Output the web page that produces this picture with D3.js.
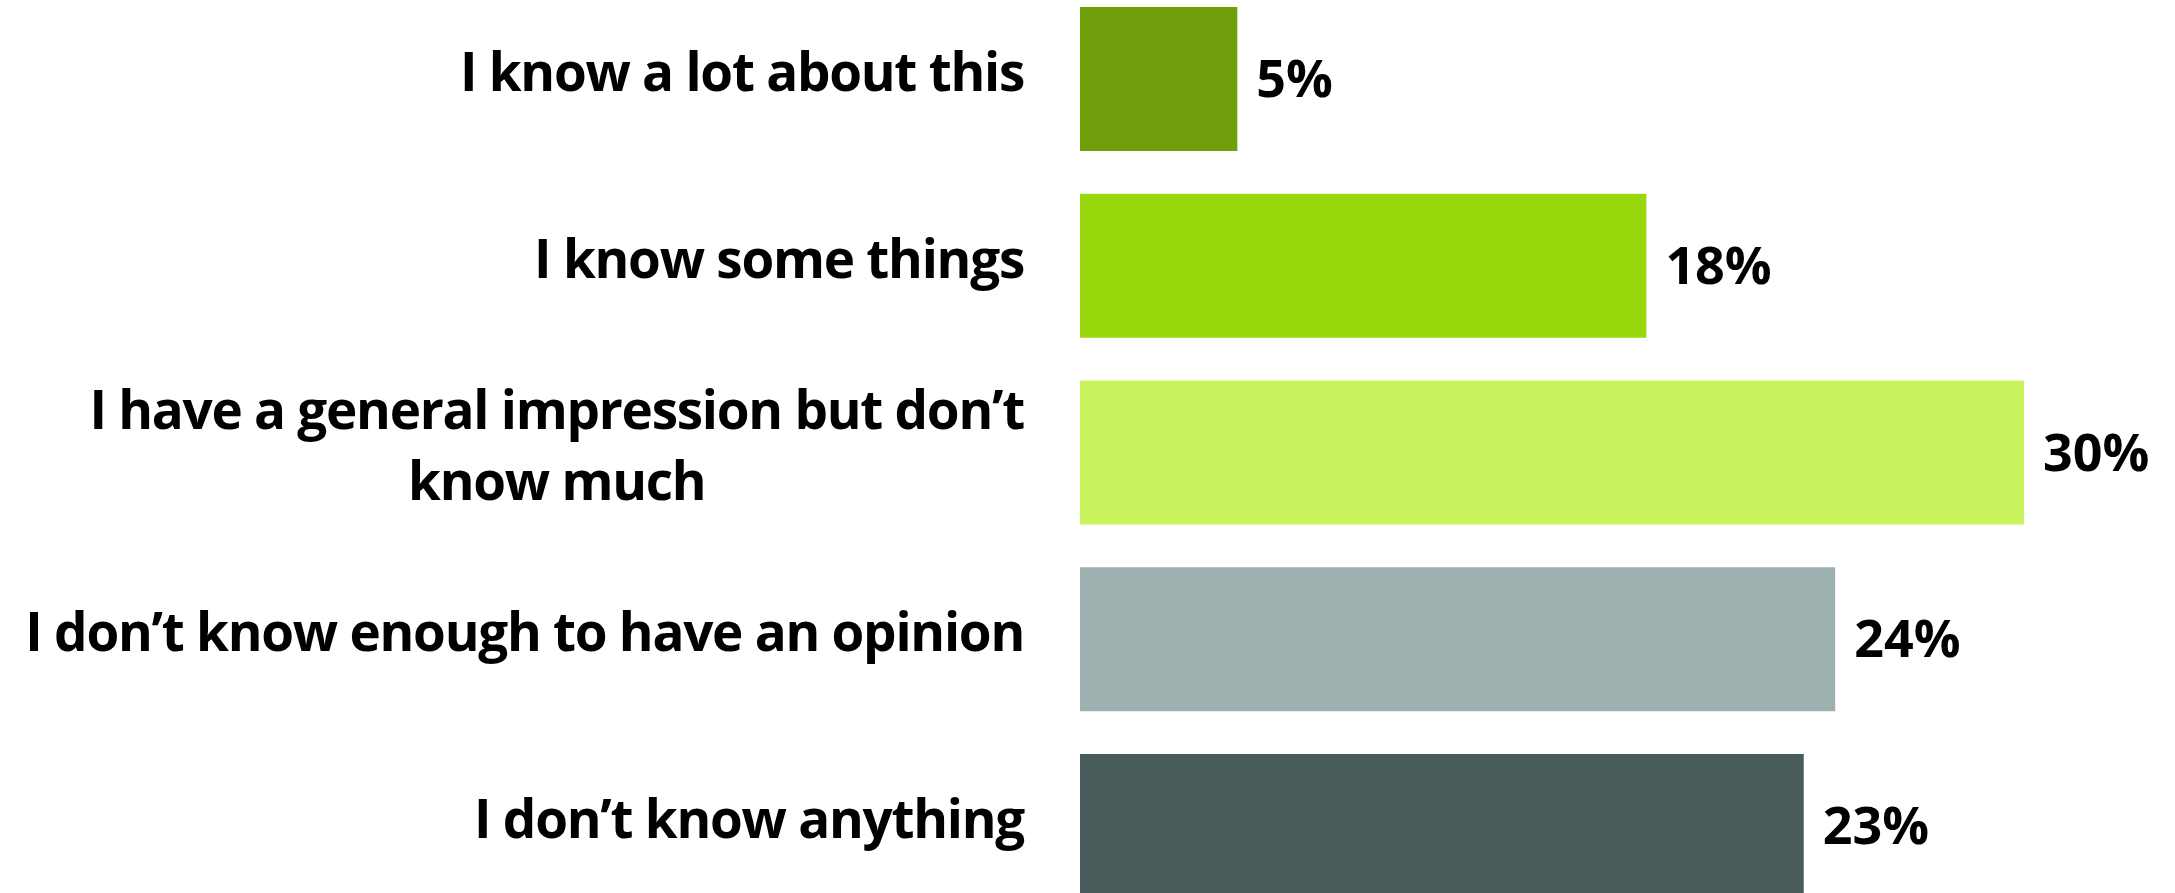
<!DOCTYPE html>
<html>
<head>
<meta charset="utf-8">
<script src="https://cdn.jsdelivr.net/npm/d3@7"></script>
<style>
  html, body { margin: 0; padding: 0; background: #ffffff; }
  svg { display: block; }
  text { font-family: "Open Sans", Lato, sans-serif; font-weight: 700; fill: #000; }
</style>
</head>
<body>
<svg id="chart" width="2175" height="893"></svg>
<script>
// Survey answers, top to bottom; "\n" splits a label over two lines
const categories = [
  "I know a lot about this",
  "I know some things",
  "I have a general impression but don\u2019t\nknow much",
  "I don\u2019t know enough to have an opinion",
  "I don\u2019t know anything"
];
const values = [5, 18, 30, 24, 23];
const barColors = ["#6f9f0b", "#98d70b", "#c8f55e", "#9cb0af", "#4a5b5b"];
const valueLabels = values.map(v => v + "%");

const svg = d3.select("#chart");

const x = d3.scaleLinear().domain([0, 30]).range([1080, 2024]);
const y = d3.scaleBand()
  .domain(categories)
  .range([7, 898])
  .paddingInner(0.229)
  .paddingOuter(0);

const valueFontSize = 52;
const labelFontSize = 53;
const labelSpacing = -1.25;
const labelRight = 1024;
const lineGap = 71;

// Bars
svg.append("g")
  .selectAll("rect")
  .data(categories)
  .join("rect")
  .attr("x", x(0))
  .attr("y", d => y(d))
  .attr("width", (d, i) => x(values[i]) - x(0))
  .attr("height", y.bandwidth())
  .attr("fill", (d, i) => barColors[i]);

// Value labels to the right of each bar
svg.append("g")
  .selectAll("text")
  .data(categories)
  .join("text")
  .attr("x", (d, i) => x(values[i]) + 19)
  .attr("y", d => y(d) + y.bandwidth() / 2 + 18)
  .style("font-size", valueFontSize + "px")
  .text((d, i) => valueLabels[i]);

// Category labels, right-aligned; multi-line labels are centred on their widest line
const labelG = svg.append("g");
categories.forEach(cat => {
  const lines = cat.split("\n");
  const cy = y(cat) + y.bandwidth() / 2;
  const firstBaseline = cy + 12 - (lines.length - 1) * lineGap / 2;
  const t = labelG.append("text")
    .style("font-size", labelFontSize + "px")
    .style("letter-spacing", labelSpacing + "px");
  const spans = lines.map((ln, j) =>
    t.append("tspan").attr("y", firstBaseline + j * lineGap).text(ln));
  if (lines.length === 1) {
    t.attr("text-anchor", "end");
    spans[0].attr("x", labelRight);
  } else {
    const widths = spans.map(s => s.node().getComputedTextLength());
    const maxW = d3.max(widths);
    t.attr("text-anchor", "middle");
    spans.forEach(s => s.attr("x", labelRight - maxW / 2));
  }
});
</script>
</body>
</html>
